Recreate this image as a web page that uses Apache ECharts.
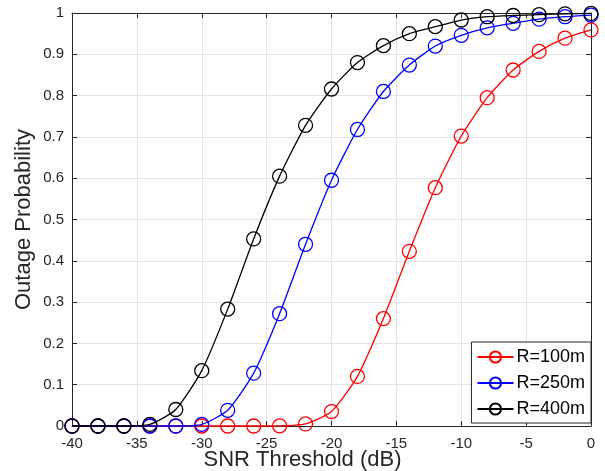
<!DOCTYPE html>
<html>
<head>
<meta charset="utf-8">
<script src="https://cdn.jsdelivr.net/npm/echarts@6/dist/echarts.min.js"></script>
<style>
html,body{margin:0;padding:0;background:#fff;}
#chart{width:605px;height:471px;}
</style>
</head>
<body>
<div id="chart"></div>
<script>
var snr = [-40,-38,-36,-34,-32,-30,-28,-26,-24,-22,-20,-18,-16,-14,-12,-10,-8,-6,-4,-2,0];
var r100 = [0,0,0,0,0,0,0,0,0.0003,0.005,0.035,0.12,0.26,0.423,0.577,0.702,0.795,0.862,0.907,0.939,0.959];
var r250 = [0,0,0,0,0,0.004,0.038,0.128,0.272,0.44,0.595,0.718,0.81,0.874,0.92,0.946,0.964,0.975,0.985,0.991,0.995];
var r400 = [0,0,0,0.004,0.04,0.134,0.283,0.453,0.605,0.728,0.816,0.88,0.921,0.95,0.967,0.983,0.991,0.994,0.996,0.998,0.999];
var seriesNames = ['R=100m','R=250m','R=400m'];
var seriesColors = ['#ff0000','#0000ff','#000000'];
var seriesData = [r100, r250, r400];
var xTicks = {min:-40, max:0, interval:5};
var yTicks = {min:0, max:1, interval:0.1};

var axisColor = '#262626';
var font = 'Liberation Sans, Arial, Helvetica, sans-serif';

function pairs(xs, ys){ return xs.map(function(x,i){ return [x, ys[i]]; }); }

var chart = echarts.init(document.getElementById('chart'), null, {renderer:'canvas'});
var series = seriesData.map(function(d, i){
  return {
    name: seriesNames[i],
    type: 'line',
    data: pairs(snr, d),
    smooth: 0.2,
    clip: false,
    symbol: 'circle',
    symbolSize: 14,
    lineStyle: {color: seriesColors[i], width: 1.3},
    itemStyle: {color: 'rgba(0,0,0,0)', borderColor: seriesColors[i], borderWidth: 1.3},
    emphasis: {disabled: true},
    z: 2 + i
  };
});

chart.setOption({
  animation: false,
  backgroundColor: '#fff',
  grid: {left: 72, right: 14, top: 13, bottom: 45, outerBoundsMode: 'none', containLabel: false},
  legend: {
    data: seriesNames,
    orient: 'vertical',
    right: 14,
    bottom: 48,
    itemWidth: 36,
    itemHeight: 14,
    itemGap: 8,
    padding: [6, 6, 5, 5],
    backgroundColor: '#fff',
    borderColor: '#262626',
    borderWidth: 1,
    textStyle: {fontFamily: font, fontSize: 18, color: '#000', padding: [0,0,0,-2]}
  },
  xAxis: [{
    type: 'value', min: xTicks.min, max: xTicks.max, interval: xTicks.interval,
    name: 'SNR Threshold (dB)', nameLocation: 'middle', nameGap: 23, nameMoveOverlap: false,
    nameTextStyle: {fontFamily: font, fontSize: 22, color: axisColor, padding: [0, 58, 0, 0]},
    axisLine: {show: true, onZero: false, lineStyle: {color: axisColor, width: 1}},
    axisTick: {show: true, inside: true, length: 5, lineStyle: {color: axisColor}},
    axisLabel: {fontFamily: font, fontSize: 15, color: axisColor, margin: 10},
    splitLine: {show: true, lineStyle: {color: '#e3e3e3', width: 1}}
  }, {
    type: 'value', position: 'top', min: xTicks.min, max: xTicks.max, interval: xTicks.interval,
    axisLine: {show: true, onZero: false, lineStyle: {color: axisColor, width: 1}},
    axisTick: {show: true, inside: true, length: 5, lineStyle: {color: axisColor}},
    axisLabel: {show: false}, splitLine: {show: false}
  }],
  yAxis: [{
    type: 'value', min: yTicks.min, max: yTicks.max, interval: yTicks.interval,
    name: 'Outage Probability', nameLocation: 'middle', nameGap: 37, nameMoveOverlap: false,
    nameTextStyle: {fontFamily: font, fontSize: 22, color: axisColor},
    axisLine: {show: true, onZero: false, lineStyle: {color: axisColor, width: 1}},
    axisTick: {show: true, inside: true, length: 5, lineStyle: {color: axisColor}},
    axisLabel: {fontFamily: font, fontSize: 15, color: axisColor, margin: 8},
    splitLine: {show: true, lineStyle: {color: '#e3e3e3', width: 1}}
  }, {
    type: 'value', position: 'right', min: yTicks.min, max: yTicks.max, interval: yTicks.interval,
    axisLine: {show: true, onZero: false, lineStyle: {color: axisColor, width: 1}},
    axisTick: {show: true, inside: true, length: 5, lineStyle: {color: axisColor}},
    axisLabel: {show: false}, splitLine: {show: false}
  }],
  series: series
});
</script>
</body>
</html>
